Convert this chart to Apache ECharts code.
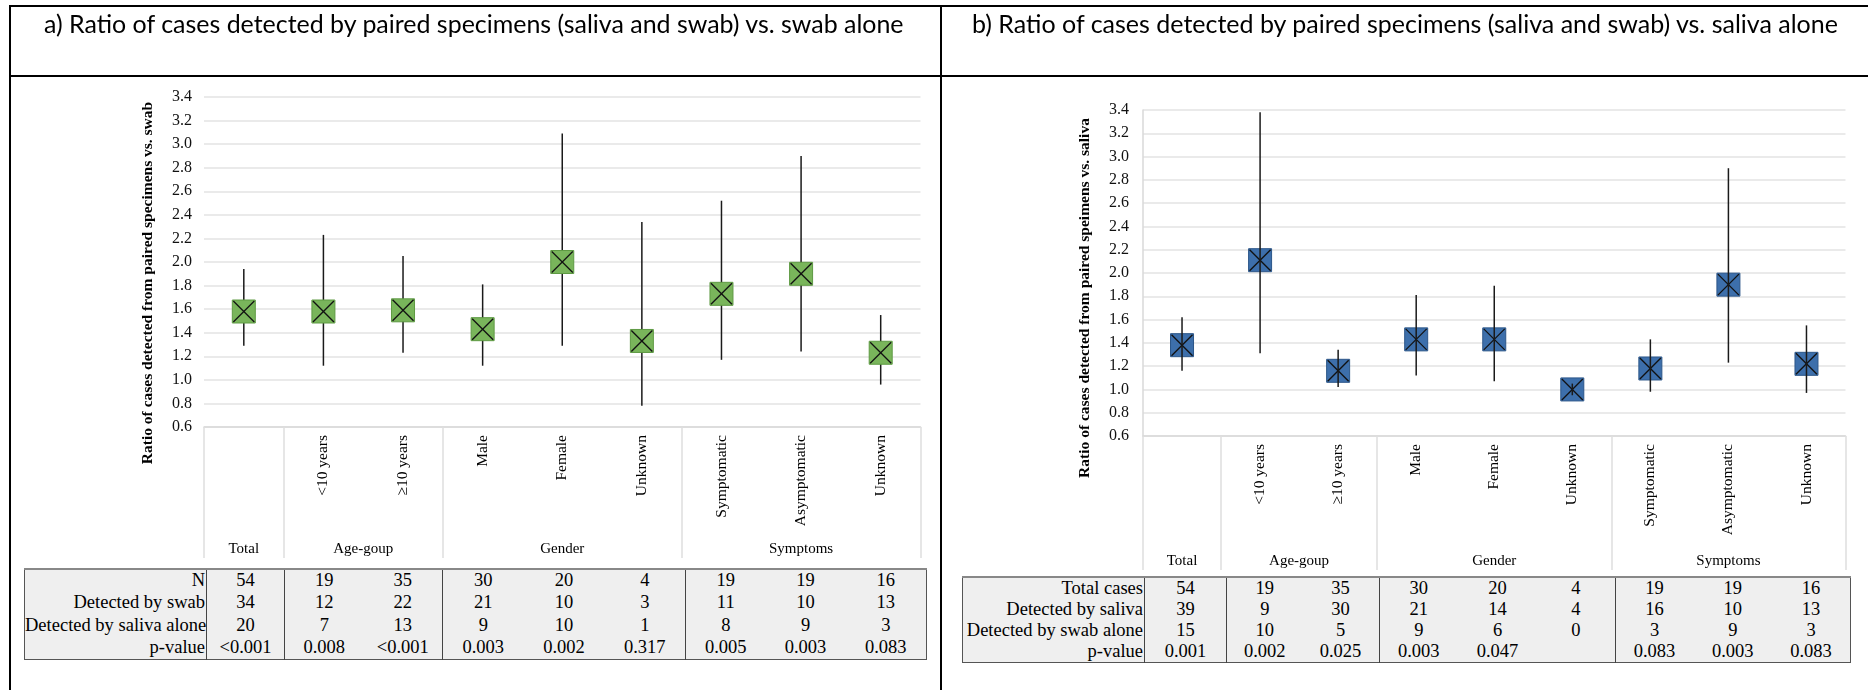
<!DOCTYPE html>
<html>
<head>
<meta charset="utf-8">
<script src="https://cdn.jsdelivr.net/npm/echarts@6/dist/echarts.min.js"></script>
<style>
  body { margin: 0; background: #fff; }
  #page { position: relative; width: 1868px; height: 690px; overflow: hidden; }
  #chart { position: absolute; left: 0; top: 0; width: 1868px; height: 690px; }
  .ln { position: absolute; background: #000; }
  .title { position: absolute; top: 8px; white-space: nowrap; font-family: Lato, 'Liberation Sans', sans-serif; font-size: 23px; color: #000; }
  table.tb { position: absolute; border-collapse: collapse; table-layout: fixed; background: #efefef;
    font-family: 'Liberation Serif', 'Times New Roman', serif; color: #000; border: 1.5px solid #555; border-top: 2px solid #888; }
  table.tb td { padding: 0; text-align: center; white-space: nowrap; overflow: hidden; }
  table.tb td.hd { text-align: right; padding-right: 1px; border-right: 1.5px solid #444; overflow: visible; }
  table.tb td.gs { border-left: 1.5px solid #444; }
</style>
</head>
<body>
<div id="page">
  <div id="chart"></div>
  <div class="ln" style="left:9px;top:5px;width:2px;height:690px"></div>
  <div class="ln" style="left:9px;top:5px;width:1859px;height:2px"></div>
  <div class="ln" style="left:940px;top:5px;width:2px;height:690px"></div>
  <div class="ln" style="left:9px;top:75px;width:1859px;height:2px"></div>
  <span class="title" id="titleA">a) Ratio of cases detected by paired specimens (saliva and swab) vs. swab alone</span>
  <span class="title" id="titleB">b) Ratio of cases detected by paired specimens (saliva and swab) vs. saliva alone</span>
  <table class="tb" id="tableA"></table>
  <table class="tb" id="tableB"></table>
</div>
<script>
// categories and groups
const categories = ['Total', '<10 years', '≥10 years', 'Male', 'Female', 'Unknown', 'Symptomatic', 'Asymptomatic', 'Unknown'];
const groupNames = ['Total', 'Age-goup', 'Gender', 'Symptoms'];
const groupEdges = [0, 1, 3, 6, 9];
const groupCenters = [0.5, 2, 4.5, 7.5];
const yTicks = { min: 0.6, max: 3.4, step: 0.2 };

// a) paired vs swab
const ratioA = [1.58, 1.58, 1.59, 1.43, 2.00, 1.33, 1.73, 1.90, 1.23];
const lowA   = [1.29, 1.12, 1.23, 1.12, 1.29, 0.78, 1.17, 1.24, 0.96];
const highA  = [1.94, 2.23, 2.05, 1.81, 3.09, 2.34, 2.52, 2.90, 1.55];

// b) paired vs saliva
const ratioB = [1.38, 2.11, 1.16, 1.43, 1.43, 1.00, 1.18, 1.90, 1.22];
const lowB   = [1.16, 1.31, 1.02, 1.12, 1.07, 0.95, 0.98, 1.23, 0.97];
const highB  = [1.62, 3.38, 1.34, 1.81, 1.89, 1.05, 1.43, 2.90, 1.55];

// tables
const rowLabelsA = ['N', 'Detected by swab', 'Detected by saliva alone', 'p-value'];
const nA = [54, 19, 35, 30, 20, 4, 19, 19, 16];
const swabA = [34, 12, 22, 21, 10, 3, 11, 10, 13];
const salivaAloneA = [20, 7, 13, 9, 10, 1, 8, 9, 3];
const pA = ['<0.001', '0.008', '<0.001', '0.003', '0.002', '0.317', '0.005', '0.003', '0.083'];

const rowLabelsB = ['Total cases', 'Detected by saliva', 'Detected by swab alone', 'p-value'];
const totalB = [54, 19, 35, 30, 20, 4, 19, 19, 16];
const salivaB = [39, 9, 30, 21, 14, 4, 16, 10, 13];
const swabAloneB = [15, 10, 5, 9, 6, 0, 3, 9, 3];
const pB = ['0.001', '0.002', '0.025', '0.003', '0.047', '', '0.083', '0.003', '0.083'];

const SERIF = "'Liberation Serif', 'Times New Roman', serif";

function buildTable(id, box, colW, labels, rows, fontSize) {
  const t = document.getElementById(id);
  t.style.left = box.left + 'px';
  t.style.top = box.top + 'px';
  t.style.width = box.width + 'px';
  t.style.fontSize = fontSize + 'px';
  let html = '<colgroup>' + colW.map(w => '<col style="width:' + w + 'px">').join('') + '</colgroup>';
  rows.forEach((r, ri) => {
    html += '<tr style="height:' + box.rowH + 'px"><td class="hd">' + labels[ri].replace('<', '&lt;') + '</td>';
    r.forEach((v, ci) => {
      const gs = groupEdges.indexOf(ci) > 0 ? ' class="gs"' : '';
      html += '<td' + gs + '>' + String(v).replace('<', '&lt;') + '</td>';
    });
    html += '</tr>';
  });
  t.innerHTML = html;
}

buildTable('tableA', { left: 24, top: 568, width: 902, rowH: 22.5 },
  [182, 78, 79, 79, 81, 81, 81, 80, 80, 81],
  rowLabelsA, [nA, swabA, salivaAloneA, pA], 18.5);
buildTable('tableB', { left: 962, top: 576, width: 888, rowH: 20.5 },
  [182, 82, 76, 76.5, 79, 79, 78, 78.5, 78.5, 78.5],
  rowLabelsB, [totalB, salivaB, swabAloneB, pB], 18.5);

function fitTitle(id, left, target) {
  const el = document.getElementById(id);
  const w = el.getBoundingClientRect().width;
  el.style.fontSize = (23 * target / w) + 'px';
  el.style.left = left + 'px';
}
fitTitle('titleA', 44, 860);
fitTitle('titleB', 972, 866);

function errorItem(fill, stroke, barOnTop) {
  return function (params, api) {
    const i = api.value(0);
    const p = api.coord([i, api.value(1)]);
    const lo = api.coord([i, api.value(2)]);
    const hi = api.coord([i, api.value(3)]);
    const h = 11.5;
    const bar = { type: 'line', shape: { x1: p[0], y1: lo[1], x2: p[0], y2: hi[1] }, style: { stroke: '#1a1a1a', lineWidth: 1.5 } };
    const box = { type: 'rect', shape: { x: p[0] - h, y: p[1] - h, width: 2 * h, height: 2 * h }, style: { fill: fill, stroke: stroke, lineWidth: 1 } };
    const c1 = { type: 'line', shape: { x1: p[0] - h + 1, y1: p[1] - h + 1, x2: p[0] + h - 1, y2: p[1] + h - 1 }, style: { stroke: '#111', lineWidth: 1.3 } };
    const c2 = { type: 'line', shape: { x1: p[0] - h + 1, y1: p[1] + h - 1, x2: p[0] + h - 1, y2: p[1] - h + 1 }, style: { stroke: '#111', lineWidth: 1.3 } };
    return { type: 'group', children: barOnTop ? [box, c1, c2, bar] : [bar, box, c1, c2] };
  };
}

function catAxis(gridIndex) {
  return {
    gridIndex: gridIndex, type: 'category', data: categories,
    axisTick: { show: false },
    axisLine: { lineStyle: { color: '#d9d9d9', width: 1.5 } },
    axisLabel: {
      rotate: 90, margin: 8, color: '#000', fontFamily: SERIF, fontSize: 15.5, interval: 0,
      formatter: (v, i) => (i === 0 ? '' : v)
    }
  };
}
function groupAxis(gridIndex, tickLen, labelMargin) {
  return {
    gridIndex: gridIndex, type: 'value', min: 0, max: 9, position: 'bottom', offset: 0,
    splitLine: { show: false }, axisLine: { show: false },
    axisTick: { show: true, length: tickLen, customValues: groupEdges, lineStyle: { color: '#dedede', width: 1.5 } },
    axisLabel: {
      customValues: groupCenters, margin: labelMargin, color: '#000', fontFamily: SERIF, fontSize: 15,
      formatter: v => groupNames[groupCenters.indexOf(v)]
    }
  };
}
function valAxis(gridIndex, showLine, margin) {
  return {
    gridIndex: gridIndex, type: 'value', min: yTicks.min, max: yTicks.max, interval: yTicks.step,
    axisLine: { show: showLine, lineStyle: { color: '#d9d9d9', width: 1.5 } },
    axisTick: { show: false },
    splitLine: { lineStyle: { color: '#e3e3e3', width: 1.5 } },
    axisLabel: { margin: margin, color: '#111', fontFamily: SERIF, fontSize: 16, formatter: v => v.toFixed(1) }
  };
}

const chart = echarts.init(document.getElementById('chart'), null, { renderer: 'canvas' });
chart.setOption({
  animation: false,
  grid: [
    { left: 204, top: 97, width: 716.5, height: 330 },
    { left: 1143, top: 110, width: 702.5, height: 326 }
  ],
  xAxis: [catAxis(0), groupAxis(0, 131, 115), catAxis(1), groupAxis(1, 134, 118)],
  yAxis: [valAxis(0, false, 12), valAxis(1, true, 14)],
  graphic: [
    { type: 'text', x: 148, y: 283, rotation: Math.PI / 2,
      style: { text: 'Ratio of cases detected from paired specimens vs. swab', font: 'bold 15.5px ' + SERIF, fill: '#000', align: 'center', verticalAlign: 'middle' } },
    { type: 'text', x: 1085, y: 298, rotation: Math.PI / 2,
      style: { text: 'Ratio of cases detected from paired speimens vs. saliva', font: 'bold 15.5px ' + SERIF, fill: '#000', align: 'center', verticalAlign: 'middle' } }
  ],
  series: [
    {
      type: 'custom', xAxisIndex: 0, yAxisIndex: 0,
      data: categories.map((c, i) => [i, ratioA[i], lowA[i], highA[i]]),
      encode: { x: 0, y: [1, 2, 3] },
      renderItem: errorItem('#79b55b', '#5e9a43', false)
    },
    {
      type: 'custom', xAxisIndex: 2, yAxisIndex: 1,
      data: categories.map((c, i) => [i, ratioB[i], lowB[i], highB[i]]),
      encode: { x: 0, y: [1, 2, 3] },
      renderItem: errorItem('#3d6fab', '#2c5689', true)
    }
  ]
});
</script>
</body>
</html>
